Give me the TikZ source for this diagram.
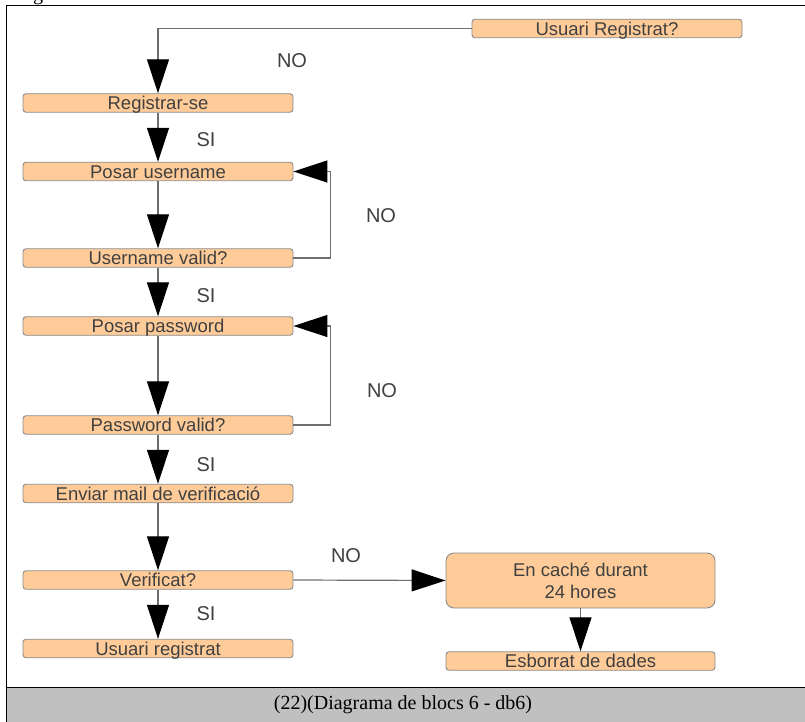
\documentclass[tikz,border=0pt]{standalone}
\usepackage{fontspec}
\setmainfont{Liberation Serif}
\newfontfamily\boxfont{Liberation Sans}
\usetikzlibrary{arrows.meta}

\definecolor{boxfill}{HTML}{FFCC99}
\definecolor{boxline}{HTML}{8A8A8A}
\definecolor{txt}{HTML}{404040}
\definecolor{wire}{HTML}{6E6E6E}
\definecolor{band}{HTML}{C0C0C0}

\tikzset{
  stepbox/.style={draw=boxline, fill=boxfill, rounded corners=3pt, line width=0.9pt,
    minimum width=270pt, minimum height=18.5pt, inner xsep=0pt, inner ysep=2.6pt,
    text height=13.3pt, text depth=0pt, text=txt,
    font=\boxfont\fontsize{18.5}{22}\selectfont},
  bigbox/.style={draw=boxline, fill=boxfill, rounded corners=8pt, line width=0.9pt,
    minimum width=269pt, minimum height=55pt, inner sep=0pt, align=center, text=txt,
    font=\boxfont\fontsize{18.5}{22}\selectfont},
  tag/.style={text=txt, inner sep=0pt, font=\boxfont\fontsize{20}{24}\selectfont},
  flow/.style={draw=wire, line width=1.2pt,
    -{Triangle[length=34pt,width=22pt,fill=black,color=black]}},
  wireline/.style={draw=wire, line width=1.2pt}
}

\begin{document}
\begin{tikzpicture}[x=1pt, y=-1pt]
  \useasboundingbox (0,0) rectangle (805,722);

  % frame and caption band
  \fill[band] (6,687) rectangle (810,727);
  \draw[black, line width=1pt] (810,6) -- (6,6) -- (6,727);
  \draw[black, line width=1pt] (6,687) -- (810,687);
  \node[font=\fontsize{20}{24}\selectfont, inner sep=0pt] (caption) at (403,705)
    {(22)(Diagrama de blocs 6 - db6)};
  \node[font=\fontsize{20}{24}\selectfont, anchor=base, inner sep=0pt] (cut) at (38,0.5) {g};

  % boxes
  \node[stepbox] (q)   at (607,28.5)  {Usuari Registrat?};
  \node[stepbox] (reg) at (158,103)   {Registrar-se};
  \node[stepbox] (pu)  at (158,171.5) {Posar username};
  \node[stepbox] (uv)  at (158,258)   {Username valid?};
  \node[stepbox] (pp)  at (158,326)   {Posar password};
  \node[stepbox] (pv)  at (158,425)   {Password valid?};
  \node[stepbox] (em)  at (158,493.5) {Enviar mail de verificació};
  \node[stepbox] (ver) at (158,580)   {Verificat?};
  \node[stepbox] (ur)  at (158,648.5) {Usuari registrat};
  \node[bigbox]  (cache) at (580.5,580.5) {En caché durant\\24 hores};
  \node[stepbox, minimum width=269pt] (del) at (580.5,661) {Esborrat de dades};

  % connectors
  \draw[flow] (q.west) -| (reg.north);
  \draw[flow] (reg) -- (pu);
  \draw[flow] (pu) -- (uv);
  \draw[flow] (uv.east) -- ++(37,0) |- (pu.east);
  \draw[flow] (uv) -- (pp);
  \draw[flow] (pp) -- (pv);
  \draw[flow] (pv.east) -- ++(37,0) |- (pp.east);
  \draw[flow] (pv) -- (em);
  \draw[flow] (em) -- (ver);
  \draw[flow] (ver) -- (ur);
  \draw[flow] (ver.east) -- (cache.west);
  \draw[flow] (cache.south) -- (del.north);

  % branch labels
  \node[tag] (n1) at (292,61)  {NO};
  \node[tag] (s1) at (206,140) {SI};
  \node[tag] (n2) at (381,216) {NO};
  \node[tag] (s2) at (206,296) {SI};
  \node[tag] (n3) at (382,391) {NO};
  \node[tag] (s3) at (206,465) {SI};
  \node[tag] (n4) at (346,556) {NO};
  \node[tag] (s4) at (206,614) {SI};
\end{tikzpicture}
\end{document}
